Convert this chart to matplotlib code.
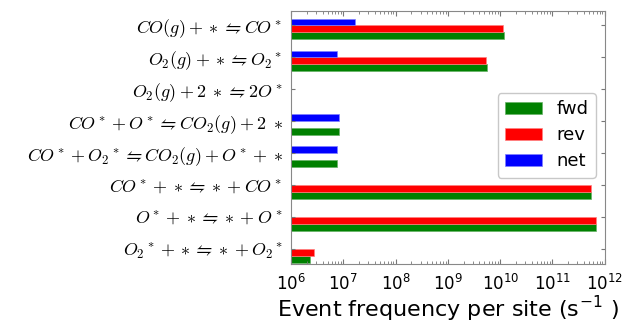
import numpy as np
import matplotlib
matplotlib.use("Agg")
import matplotlib.pyplot as plt

plt.rcParams["mathtext.fontset"] = "cm"
plt.rcParams["font.family"] = "DejaVu Sans"

reactions = [
    r"$CO(g) + * \leftrightharpoons CO^*$",
    r"$O_2(g) + * \leftrightharpoons {O_2}^*$",
    r"$O_2(g) + 2\;* \leftrightharpoons 2O^*$",
    r"$CO^* + O^* \leftrightharpoons CO_2(g) + 2\;*$",
    r"$CO^* + {O_2}^* \leftrightharpoons CO_2(g) + O^* + *$",
    r"$CO^* + * \leftrightharpoons * + CO^*$",
    r"$O^* + * \leftrightharpoons * + O^*$",
    r"${O_2}^* + * \leftrightharpoons * + {O_2}^*$",
]
fwd = [1.18e10, 5.5e9, 0.0, 8.4e6, 7.4e6, 5.4e11, 6.7e11, 2.3e6]
rev = [1.15e10, 5.4e9, 0.0, 0.0, 0.0, 5.4e11, 6.7e11, 2.8e6]
net = [1.67e7, 7.4e6, 0.0, 8.4e6, 7.4e6, 0.0, 0.0, 0.0]

w = 0.215
pos = np.arange(len(reactions))[::-1].astype(float)

fig = plt.figure(figsize=(6.26, 3.27), dpi=100)
ax = fig.add_axes([0.465, 0.193, 0.501, 0.773])

ax.barh(pos - 2 * w, fwd, height=w, align="edge", color="g", edgecolor="#66b366", linewidth=0.5, label="fwd")
ax.barh(pos - w, rev, height=w, align="edge", color="r", edgecolor="#ff8080", linewidth=0.5, label="rev")
ax.barh(pos, net, height=w, align="edge", color="b", edgecolor="#8080ff", linewidth=0.5, label="net")

ax.set_xscale("log")
ax.set_xlim(1e6, 1e12)
ax.set_ylim(-0.47, 7.45)
ax.set_yticks(pos)
ax.set_yticklabels(reactions, fontsize=13)
ax.tick_params(axis="x", labelsize=12, pad=7)
ax.tick_params(which="both", direction="in", top=True, right=True, color="#777777")
ax.tick_params(axis="y", length=3, pad=6)
for sp in ax.spines.values():
    sp.set_color("#888888")

ax.set_xlabel("Event frequency per site (s$^{\\mathregular{-1}}$ )", fontsize=16, labelpad=1)

leg = ax.legend(loc="upper right", bbox_to_anchor=(0.971, 0.676), borderaxespad=0,
                fontsize=13, handlelength=2.05, handleheight=0.7, labelspacing=0.45,
                fancybox=True)
leg.get_frame().set_edgecolor("#bbbbbb")

fig.savefig("out.png", dpi=100)
